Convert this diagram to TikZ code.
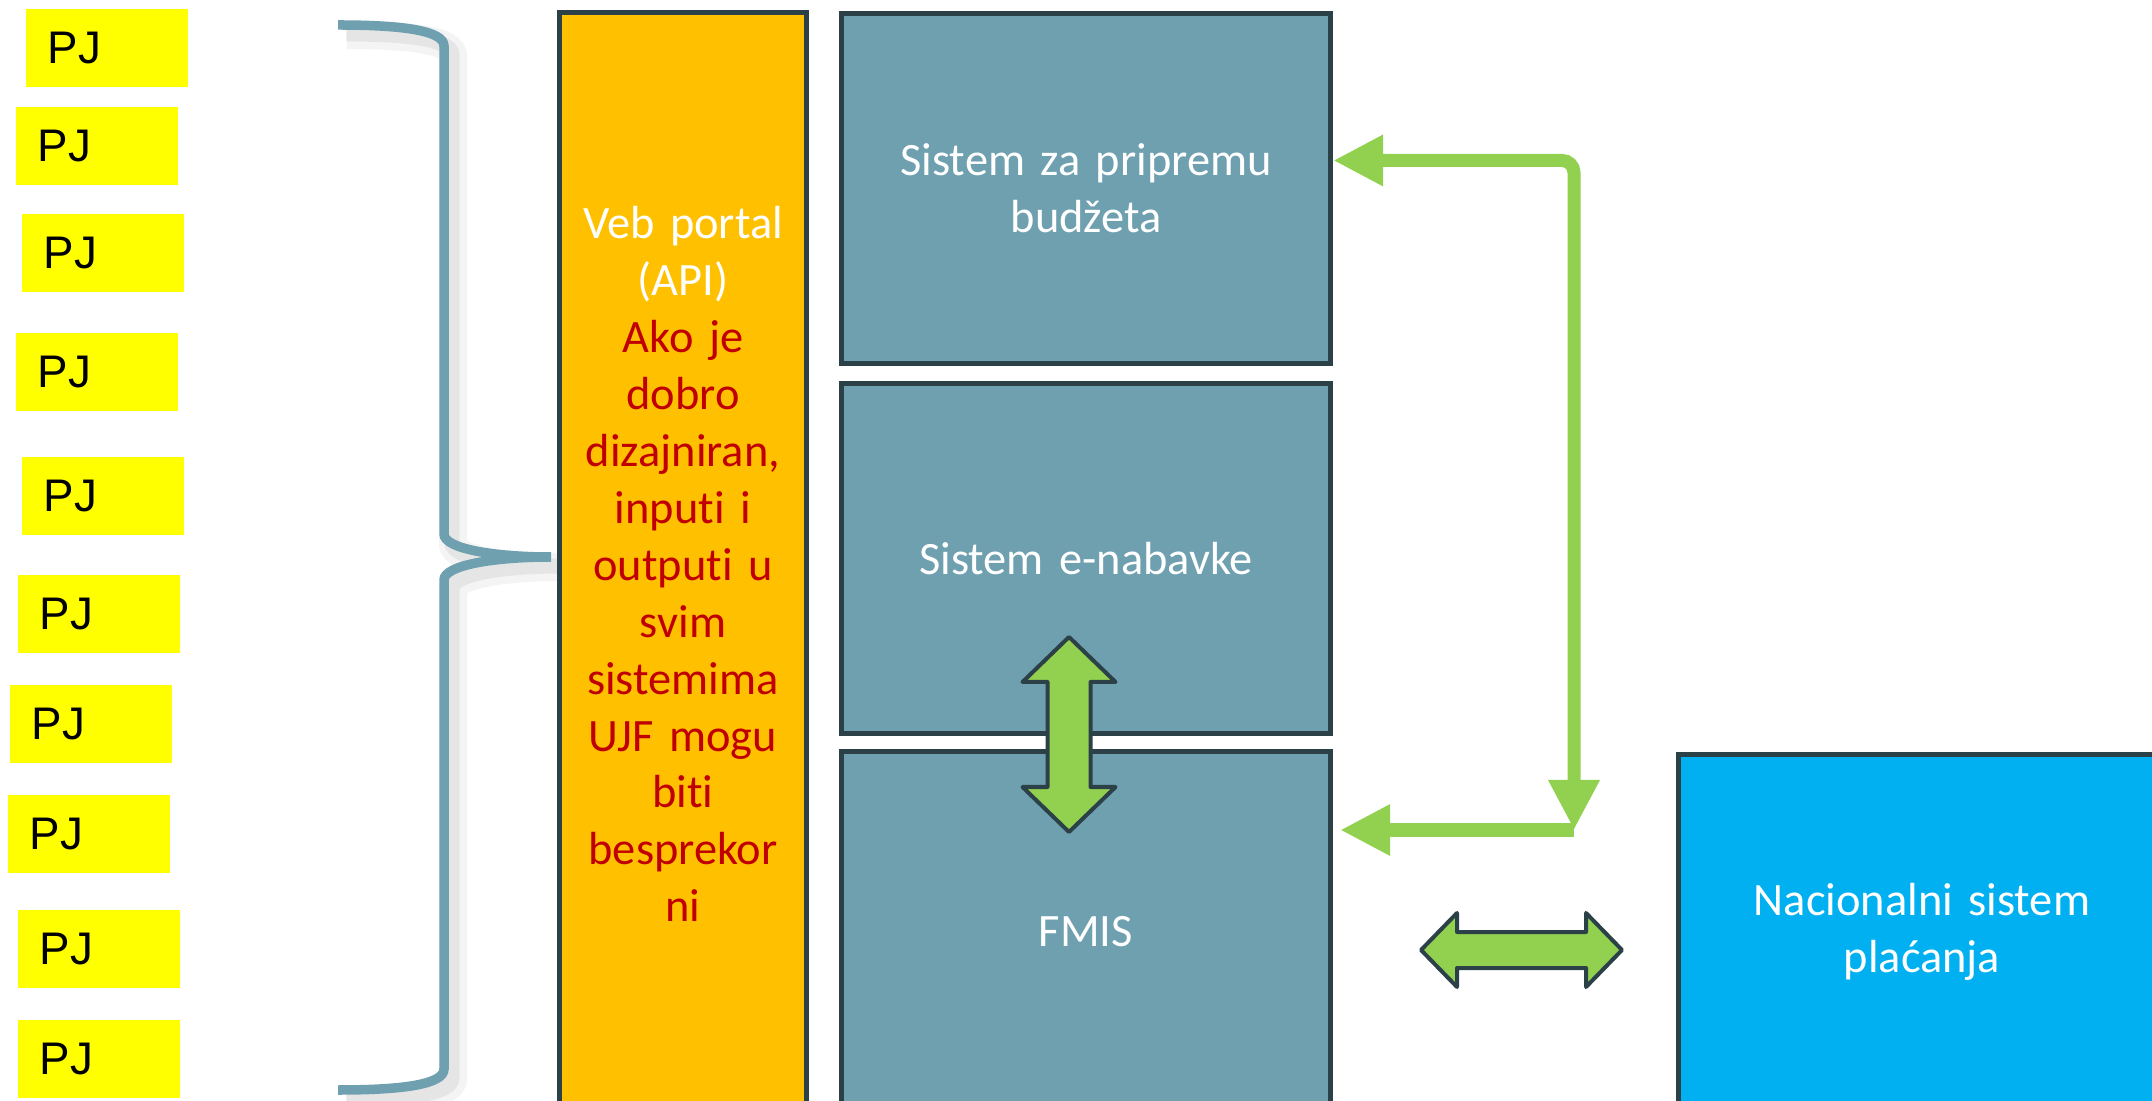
\documentclass[tikz,border=0pt]{standalone}
\usepackage{fontspec}
\setmainfont{Carlito}[Ligatures=NoCommon, WordSpace=0.85]
\newfontfamily\pjfont{Liberation Sans}
\usetikzlibrary{arrows.meta}

\definecolor{pjyellow}{RGB}{255,255,0}
\definecolor{portalorange}{RGB}{255,192,0}
\definecolor{systeal}{RGB}{111,160,176}
\definecolor{boxedge}{RGB}{44,64,72}
\definecolor{payblue}{RGB}{0,176,240}
\definecolor{linkgreen}{RGB}{146,208,80}
\definecolor{notered}{RGB}{192,0,0}
\definecolor{shadowgray}{RGB}{120,120,120}

\tikzset{
  pjbox/.style={fill=pjyellow, anchor=north west, minimum height=0.78cm, text width=1.18cm,
    inner xsep=0.22cm, inner ysep=0pt, align=left, font=\pjfont\fontsize{13}{15}\selectfont},
  sysbox/.style={draw=boxedge, line width=0.05cm, fill=systeal, text=white, inner sep=0.05cm,
    align=center, font=\fontsize{13.2}{16.2}\selectfont},
  linkline/.style={draw=linkgreen, line width=0.13cm},
  blockarrow/.style={fill=linkgreen, draw=boxedge, line width=0.04cm, line join=round},
  bracestyle/.style={draw=systeal, line width=0.095cm}
}

\begin{document}
\begin{tikzpicture}[x=0.01cm, y=-0.01cm, >={Triangle[length=0.5cm,width=0.48cm]}]
  \useasboundingbox (0,0) rectangle (2152,1101);
  \clip (0,0) rectangle (2152,1101);

  % Budget users
  \node[pjbox] (pj1) at (25,8) {PJ};
  \node[pjbox] (pj2) at (15,106) {PJ};
  \node[pjbox] (pj3) at (21,213) {PJ};
  \node[pjbox] (pj4) at (15,332) {PJ};
  \node[pjbox] (pj5) at (21,456) {PJ};
  \node[pjbox] (pj6) at (17,574) {PJ};
  \node[pjbox] (pj7) at (9,684) {PJ};
  \node[pjbox] (pj8) at (7,794) {PJ};
  \node[pjbox] (pj9) at (17,909) {PJ};
  \node[pjbox] (pj10) at (17,1019) {PJ};

  % Brace gathering the users
  \coordinate (bracetip) at (551,557);
  \draw[bracestyle,
    preaction={draw=shadowgray, opacity=0.08, line width=0.28cm, transform canvas={shift={(0.09cm,-0.1cm)}}},
    preaction={draw=shadowgray, opacity=0.12, line width=0.15cm, transform canvas={shift={(0.08cm,-0.09cm)}}}]
    (338,25) .. controls (405,25) and (444,31) .. (444,46) -- (444,534)
    .. controls (444,549) and (495,557) .. (bracetip)
    .. controls (495,557) and (444,565) .. (444,580) -- (444,1069)
    .. controls (444,1084) and (405,1090) .. (338,1090);

  % Portal
  \node[sysbox, fill=portalorange, minimum width=2.46cm, minimum height=11.02cm, text width=2.3cm]
    (portal) at (683,564) {Veb portal\\(API)\\\color{notered}Ako je\\dobro\\dizajniran,\\inputi i\\outputi u\\svim\\sistemima\\UJF mogu\\biti\\besprekor\\ni};

  % Systems
  \node[sysbox, minimum width=4.89cm, minimum height=3.5cm, text width=4.5cm]
    (budget) at (1086,188.5) {Sistem za pripremu\\budžeta};
  \node[sysbox, minimum width=4.89cm, minimum height=3.5cm, text width=4.5cm]
    (nabavke) at (1086,558.5) {Sistem e-nabavke};
  \node[sysbox, minimum width=4.89cm, minimum height=3.6cm, text width=4.5cm]
    (fmis) at (1086,932) {FMIS};
  \node[sysbox, fill=payblue, minimum width=4.87cm, minimum height=3.55cm, text width=4.5cm]
    (pay) at (1922,932) {Nacionalni sistem\\plaćanja};

  % Links
  \coordinate (elbow) at (1574,830);
  \draw[linkline, <->, rounded corners=0.12cm] ([yshift=0.28cm]budget.east) -| (elbow);
  \draw[linkline, ->, shorten >=0.07cm] (elbow) -- (fmis.east |- elbow);

  % Block arrows
  \draw[blockarrow] (1069,637) -- (1115.5,682) -- (1090.5,682) -- (1090.5,787) -- (1115.5,787)
    -- (1069,832) -- (1022.5,787) -- (1047.5,787) -- (1047.5,682) -- (1022.5,682) -- cycle;
  \draw[blockarrow] (1421,950) -- (1457,913) -- (1457,932) -- (1586,932) -- (1586,913)
    -- (1622,950) -- (1586,987) -- (1586,968) -- (1457,968) -- (1457,987) -- cycle;

\end{tikzpicture}
\end{document}
